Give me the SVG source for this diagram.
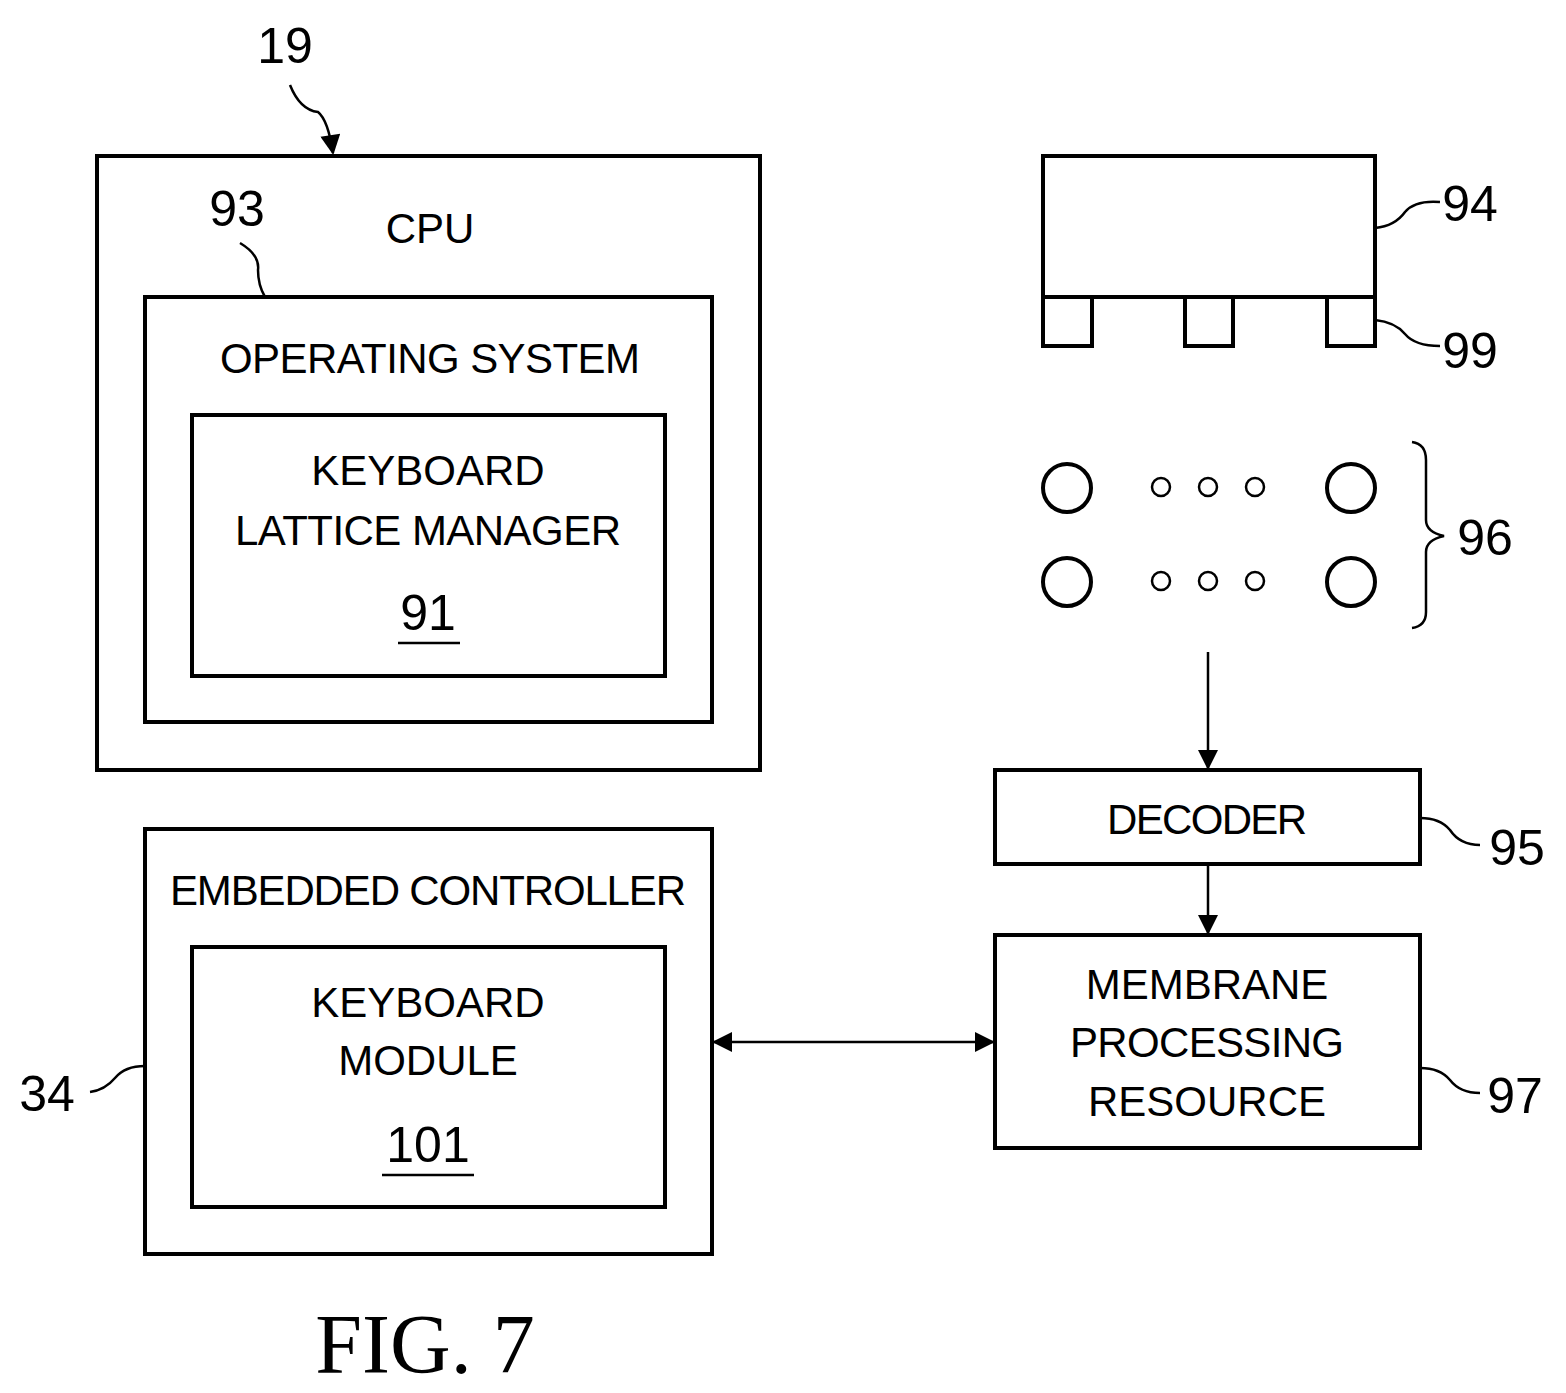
<svg xmlns="http://www.w3.org/2000/svg" width="1566" height="1393" viewBox="0 0 1566 1393">
<defs>
<marker id="ah2" viewBox="0 0 10 10" refX="9" refY="5" markerWidth="26" markerHeight="20" orient="auto-start-reverse" markerUnits="userSpaceOnUse"><path d="M0,0 L10,5 L0,10 z" fill="#000"/></marker>
</defs>
<style>
.b{fill:none;stroke:#000;stroke-width:4}
.l{fill:none;stroke:#000;stroke-width:2.5}
.t{font-family:"Liberation Sans",Arial,sans-serif;font-size:42px;text-anchor:middle;fill:#000}
.n{font-family:"Liberation Sans",Arial,sans-serif;font-size:50px;text-anchor:middle;fill:#000}
</style>
<rect width="1566" height="1393" fill="#fff"/>
<g id="cpu"><rect class="b" x="97" y="156" width="663" height="614"/><text class="t" x="430" y="243">CPU</text></g>
<g id="os"><rect class="b" x="145" y="297" width="567" height="425"/><text class="t" x="430" y="373" textLength="420">OPERATING SYSTEM</text></g>
<g id="klm"><rect class="b" x="192" y="415" width="473" height="261"/><text class="t" x="428" y="485">KEYBOARD</text><text class="t" x="428" y="545" textLength="386">LATTICE MANAGER</text><text class="n" x="428" y="630">91</text><line class="l" x1="398" y1="643" x2="460" y2="643"/></g>
<g id="ec"><rect class="b" x="145" y="829" width="567" height="425"/><text class="t" x="428" y="905" textLength="516">EMBEDDED CONTROLLER</text></g>
<g id="km"><rect class="b" x="192" y="947" width="473" height="260"/><text class="t" x="428" y="1017">KEYBOARD</text><text class="t" x="428" y="1075">MODULE</text><text class="n" x="428" y="1162">101</text><line class="l" x1="382" y1="1175" x2="474" y2="1175"/></g>
<g id="keycap"><rect class="b" x="1043" y="156" width="332" height="141"/><path class="b" d="M1043,297 V346 H1092 V297 M1185,297 V346 H1233 V297 M1327,297 V346 H1375 V297"/></g>
<g id="contacts">
<circle class="b" cx="1067" cy="488" r="24"/><circle class="b" cx="1351" cy="488" r="24"/><circle class="b" cx="1067" cy="582" r="24"/><circle class="b" cx="1351" cy="582" r="24"/>
<circle class="l" cx="1161" cy="487" r="9"/><circle class="l" cx="1208" cy="487" r="9"/><circle class="l" cx="1255" cy="487" r="9"/>
<circle class="l" cx="1161" cy="581" r="9"/><circle class="l" cx="1208" cy="581" r="9"/><circle class="l" cx="1255" cy="581" r="9"/>
<path class="l" d="M1412,442 Q1426,444 1426,460 V520 Q1426,532 1444,536 Q1426,540 1426,552 V612 Q1426,626 1412,628"/>
</g>
<g id="decoder"><rect class="b" x="995" y="770" width="425" height="94"/><text class="t" x="1207" y="834" textLength="200">DECODER</text></g>
<g id="mpr"><rect class="b" x="995" y="935" width="425" height="213"/><text class="t" x="1207" y="999">MEMBRANE</text><text class="t" x="1207" y="1057" textLength="274">PROCESSING</text><text class="t" x="1207" y="1116">RESOURCE</text></g>
<g id="labels">
<text class="n" x="285" y="63">19</text><text class="n" x="237" y="226">93</text><text class="n" x="47" y="1111">34</text>
<text class="n" x="1470" y="221">94</text><text class="n" x="1470" y="368">99</text><text class="n" x="1485" y="555">96</text>
<text class="n" x="1517" y="865">95</text><text class="n" x="1515" y="1113">97</text>
<text x="425" y="1373" style="font-family:'Liberation Serif',serif;font-size:84px;text-anchor:middle">FIG. 7</text>
</g>
<g id="connectors">
<path class="l" d="M290,85 Q300,110 318,112 Q328,120 333,153" marker-end="url(#ah2)"/>
<path class="l" d="M240,243 Q260,255 258,270 Q258,285 265,297"/>
<path class="l" d="M90,1092 Q105,1090 115,1078 Q125,1066 145,1066"/>
<path class="l" d="M1375,228 Q1395,226 1405,212 Q1415,200 1440,202"/>
<path class="l" d="M1375,320 Q1395,322 1405,334 Q1415,346 1440,346"/>
<path class="l" d="M1420,818 Q1440,818 1450,830 Q1460,845 1480,845"/>
<path class="l" d="M1420,1068 Q1440,1068 1450,1080 Q1460,1093 1480,1093"/>
<line class="l" x1="1208" y1="652" x2="1208" y2="768" marker-end="url(#ah2)"/>
<line class="l" x1="1208" y1="864" x2="1208" y2="933" marker-end="url(#ah2)"/>
<line class="l" x1="714" y1="1042" x2="993" y2="1042" marker-start="url(#ah2)" marker-end="url(#ah2)"/>
</g>
</svg>
